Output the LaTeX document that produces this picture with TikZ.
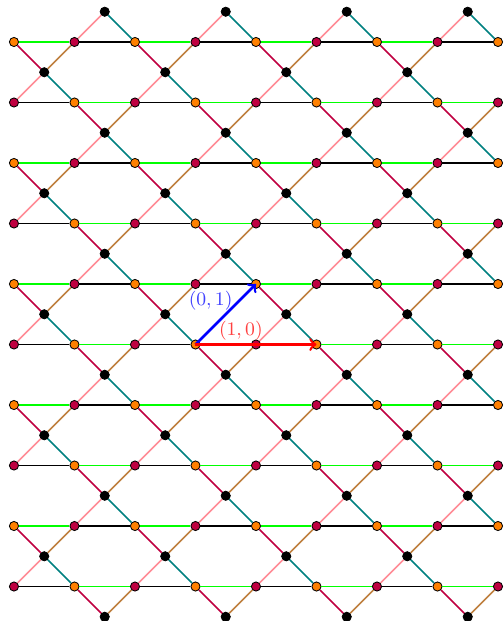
\documentclass[tikz,border=0pt]{standalone}
\usepackage{amsmath}
\usetikzlibrary{arrows.meta}
\definecolor{rosa}{RGB}{255,140,150}

\begin{document}
\begin{tikzpicture}[>=to,font=\small,
  sito/.style={circle,draw=black,inner sep=0pt,minimum size=4.3pt},
  sitoA/.style={sito,fill=orange},
  sitoB/.style={sito,fill=purple},
  sitoC/.style={sito,fill=black},
  legame/.style={line width=0.8pt}]

\useasboundingbox (-3.231,-4.570) rectangle (5.099,5.694);

% --- Siti sulle righe (arancio / porpora alternati)
\foreach \x in {-3,...,5}{
  \foreach \y in {-4,...,5}{
    \pgfmathtruncatemacro{\p}{mod(\x+\y+20,2)}
    \ifnum\p=0
      \node[sitoA] (s\x-\y) at (\x,\y) {};
    \else
      \node[sitoB] (s\x-\y) at (\x,\y) {};
    \fi
  }
}

% --- Siti neri fra le righe
\foreach \x in {-3,...,4}{
  \foreach \y in {-4,...,6}{
    \pgfmathtruncatemacro{\p}{mod(\x+\y+20,2)}
    \ifnum\p=0
      \node[sitoC] (b\x-\y) at (\x+0.5,\y-0.5) {};
    \fi
  }
}

% --- Legami orizzontali
\foreach \x in {-3,...,4}{
  \foreach \y in {-4,...,5}{
    \pgfmathtruncatemacro{\xx}{\x+1}
    \pgfmathtruncatemacro{\p}{mod(\x+\y+20,2)}
    \ifnum\p=0 \def\col{green}\else\def\col{black}\fi
    \draw[legame,\col] (s\x-\y) -- (s\xx-\y);
  }
}

% --- Legami diagonali attorno ai siti neri
\foreach \x in {-3,...,4}{
  \foreach \y in {-4,...,6}{
    \pgfmathtruncatemacro{\p}{mod(\x+\y+20,2)}
    \pgfmathtruncatemacro{\xx}{\x+1}
    \pgfmathtruncatemacro{\yy}{\y-1}
    \ifnum\p=0
      \ifnum\y<6
        \draw[legame,purple] (s\x-\y) -- (b\x-\y);
        \draw[legame,brown] (s\xx-\y) -- (b\x-\y);
      \fi
      \ifnum\y>-4
        \draw[legame,teal] (b\x-\y) -- (s\xx-\yy);
        \draw[legame,rosa] (b\x-\y) -- (s\x-\yy);
      \fi
    \fi
  }
}

% --- Vettori di base
\draw[->,very thick,blue] (s0-0.center) -- (s1-1.center);
\draw[->,very thick,red] (s0-0.center) -- (s2-0.center);

\node[blue!75] (v01) at (0.25,0.73) {$(0,1)$};
\node[red!75] (v10) at (0.75,0.22) {$(1,0)$};

\end{tikzpicture}
\end{document}
